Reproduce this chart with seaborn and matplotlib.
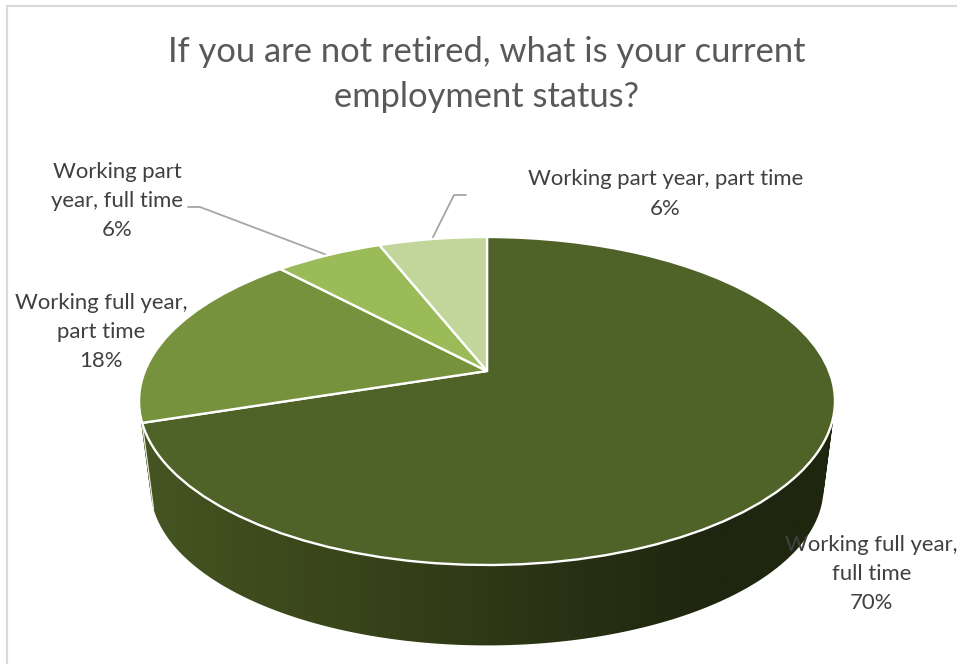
import numpy as np
import matplotlib
matplotlib.use("Agg")
import matplotlib.pyplot as plt
from matplotlib.colors import ListedColormap
from matplotlib.patches import PathPatch
from matplotlib.path import Path
from matplotlib.transforms import Transform
import seaborn as sns

title_text = "If you are not retired, what is your current\nemployment status?"
categories = ["Working full year,\nfull time", "Working full year,\npart time",
              "Working part\nyear, full time", "Working part year, part time"]
shares = [70, 18, 6, 6]
slice_colors = ["#4f6228", "#76923c", "#9bbb59", "#c2d69b"]
side_stops = ["#465623", "#3d4a1c", "#343f18", "#293214", "#1f260f", "#1f260f"]

W, H = 957, 664
CX, CY = 487, 371
K = 0.1829
A, B = 158.5, 342.1


def project(x, y):
    d = 1 + K * y
    return CX + B * x / d, CY - A * y / d


def lower(ux, uy):
    return CX + 0.967 * (ux - CX), 401 + 87 + 0.96 * (uy - 401)


class Tilt(Transform):
    input_dims = output_dims = 2
    has_inverse = False

    def transform_non_affine(self, values):
        v = np.asarray(values, float)
        return np.column_stack(project(v[:, 0], v[:, 1]))


sns.set_theme(style="white")
plt.rcParams["font.family"] = ["Lato", "DejaVu Sans"]
palette = sns.color_palette(slice_colors)
side_ramp = np.array(sns.blend_palette(side_stops, n_colors=256))

fig = plt.figure(figsize=(W / 100, H / 100), dpi=100)
ax = fig.add_axes([0, 0, 1, 1])
wedges, _ = ax.pie(shares, colors=palette, startangle=90, counterclock=False,
                   radius=1.0, wedgeprops={"edgecolor": "white", "linewidth": 1.7, "zorder": 3})
ax.set_aspect("auto")
ax.set_xlim(0, W)
ax.set_ylim(H, 0)
ax.axis("off")

tilt = Tilt() + ax.transData
for w in wedges:
    w.set_transform(tilt)

# side wall of the pie: swept along the wedge angles, shaded left to right
wall_paths = []
for w in wedges:
    t = np.radians(np.append(np.arange(w.theta1, w.theta2, 1.0), w.theta2))
    ux, uy = project(np.cos(t), np.sin(t))
    lx, ly = lower(ux, uy)
    for i in range(len(t) - 1):
        quad = np.array([(ux[i], uy[i]), (ux[i + 1], uy[i + 1]),
                         (lx[i + 1], ly[i + 1]), (lx[i], ly[i])])
        area = np.sum(quad[:, 0] * np.roll(quad[:, 1], -1) - np.roll(quad[:, 0], -1) * quad[:, 1])
        wall_paths.append(Path(quad if area > 0 else quad[::-1]))
shade = np.linspace(0, 1, 800)[None, :]
im = ax.imshow(shade, cmap=ListedColormap(side_ramp), extent=(130, 845, H, 0),
               aspect="auto", zorder=2, interpolation="bilinear")
ax.set_xlim(0, W)
ax.set_ylim(H, 0)
wall = PathPatch(Path.make_compound_path(*wall_paths), transform=ax.transData,
                 facecolor="none", edgecolor="none")
ax.add_patch(wall)
im.set_clip_path(wall)

# faint white seam where the big slice's wall ends
seam_t = np.radians(wedges[0].theta1)
sx, sy = project(np.cos(seam_t), np.sin(seam_t))
ex, ey = lower(sx, sy)
ax.plot([sx, ex], [sy, ey], color="#e8ecd8", lw=0.9, zorder=2.5)

# chart frame
ax.plot([7, 7, W], [H, 6, 6], color="#d9d9d9", lw=1.6, zorder=1, solid_joinstyle="miter")

# leader lines
ax.plot([188, 200, 327], [207, 207, 255], color="#a6a6a6", lw=1.3, zorder=1)
ax.plot([466, 454, 432], [195, 195, 239], color="#a6a6a6", lw=1.3, zorder=1)

ax.text(487, 74.5, title_text, ha="center", va="center", color="#595959",
        fontsize=24.8, linespacing=1.47, zorder=5)

label_pos = [(871.5, 574), (101, 332), (117, 201), (665.5, 194)]
for name, share, (lx, ly) in zip(categories, shares, label_pos):
    ax.text(lx, ly, f"{name}\n{share}%", ha="center", va="center", color="#404040",
            fontsize=15.9, linespacing=1.58, zorder=5)

fig.savefig("out.png", dpi=100)
